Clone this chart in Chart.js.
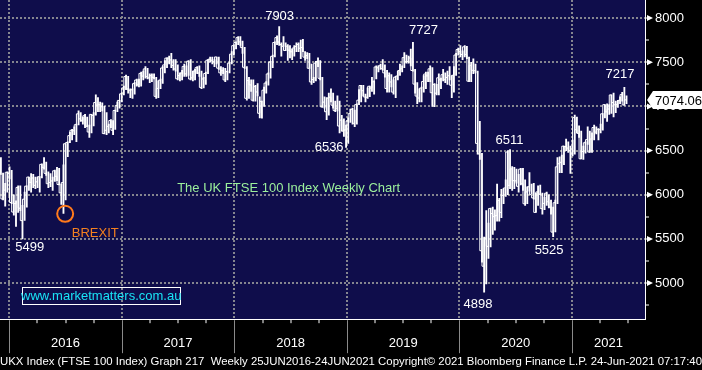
<!DOCTYPE html>
<html>
<head>
<meta charset="utf-8">
<script src="https://cdn.jsdelivr.net/npm/chart.js@4.4.1/dist/chart.umd.min.js"></script>
<style>
  html, body { margin: 0; padding: 0; background: #000; }
  canvas { display: block; }
</style>
</head>
<body>
<canvas id="ftseChart" width="702" height="370"></canvas>
<script>
// weekly bars [low, high, close], first week ends 4 Dec 2015
const w2015 = [[6230,6420,6238],[5940,6245,5952],[5870,6130,6052],[6030,6260,6254],[6180,6315,6242]];
const w2016 = [
  [5900,6275,5912],[5770,6000,5804],[5640,5930,5900],[5800,6100,6083],
  [5820,6100,5848],[5499,5880,5707],[5710,6030,5950],[5860,6100,6097],
  [6050,6200,6200],[6030,6240,6140],[6080,6230,6190],[6070,6200,6106],
  [6080,6200,6146],[6030,6205,6204],[6190,6350,6344],[6290,6420,6310],[6220,6370,6242],
  [6080,6260,6125],[6090,6240,6138],[6050,6200,6156],[6150,6280,6271],
  [6160,6310,6209],[6110,6300,6116],[5890,6120,6021],[5788,6340,6138],
  [5940,6580,6577],[6430,6600,6591],[6590,6710,6669],[6620,6740,6730],[6680,6770,6724],
  [6600,6800,6793],[6790,6950,6916],[6830,6930,6859],[6800,6880,6838],
  [6760,6910,6895],[6770,6880,6777],[6650,6790,6710],[6700,6910,6910],[6780,6930,6899],
  [6900,7130,7044],[6940,7100,7014],[6940,7050,7020],[6950,7040,6996],
  [6690,7000,6693],[6680,6930,6730],[6700,6800,6775],[6760,6850,6840],
  [6680,6840,6730],[6740,6960,6954],[6940,7050,7011],[6980,7070,7068],[7050,7150,7142]
];
const w2017 = [
  [7130,7230,7210],[7190,7355,7338],[7150,7340,7198],[7100,7200,7184],
  [7090,7200,7188],[7140,7270,7258],[7230,7310,7299],[7220,7310,7244],
  [7230,7390,7374],[7300,7400,7343],[7320,7450,7425],[7310,7430,7337],[7270,7370,7323],
  [7280,7370,7349],[7310,7370,7327],[7090,7330,7114],[7100,7290,7204],
  [7200,7310,7297],[7260,7450,7435],[7380,7520,7470],[7440,7550,7547],
  [7480,7570,7548],[7440,7600,7527],[7410,7530,7464],[7400,7530,7424],[7300,7470,7313],
  [7290,7380,7350],[7300,7410,7378],[7340,7480,7453],[7340,7460,7368],
  [7350,7520,7511],[7300,7530,7310],[7290,7400,7324],[7300,7420,7401],
  [7370,7450,7439],[7340,7460,7378],[7200,7400,7215],[7210,7330,7311],[7250,7390,7373],
  [7370,7530,7523],[7500,7560,7535],[7480,7560,7523],[7450,7530,7505],
  [7480,7560,7560],[7420,7560,7433],[7350,7450,7380],[7370,7440,7409],
  [7280,7430,7300],[7300,7400,7394],[7380,7500,7490],[7480,7620,7592],[7580,7690,7688]
];
const w2018 = [
  [7650,7730,7724],[7700,7792,7779],[7690,7790,7731],[7600,7740,7666],
  [7430,7670,7443],[7070,7450,7092],[7090,7330,7294],[7170,7300,7244],
  [7060,7300,7070],[7060,7240,7224],[7120,7260,7164],[6870,7110,6922],[6867,7060,7057],
  [7000,7220,7184],[7150,7280,7264],[7240,7380,7368],[7320,7510,7502],
  [7440,7580,7567],[7560,7730,7724],[7700,7800,7779],[7690,7903,7730],
  [7570,7720,7701],[7680,7790,7681],[7630,7720,7633],[7520,7700,7682],[7550,7690,7637],
  [7530,7650,7618],[7570,7690,7661],[7620,7720,7679],[7620,7720,7701],
  [7540,7750,7659],[7620,7760,7667],[7520,7620,7558],[7540,7610,7577],[7430,7600,7432],
  [7250,7480,7277],[7270,7330,7304],[7290,7510,7490],[7450,7550,7510],
  [7300,7520,7318],[6990,7330,6996],[6980,7110,7049],[6850,7100,6940],
  [6900,7150,7094],[7050,7200,7105],[6980,7150,7014],[6940,7060,6953],[6950,7120,6980],
  [6700,7060,6778],[6720,6900,6845],[6660,6860,6721],[6536,6790,6734]
];
const w2019 = [
  [6580,6870,6837],[6820,6970,6918],[6800,6980,6968],[6770,6960,6809],
  [6800,7030,7020],[7020,7190,7071],[7050,7240,7237],[7120,7240,7178],
  [7050,7140,7107],[7090,7210,7104],[7110,7230,7228],[7170,7330,7207],[7140,7290,7279],
  [7310,7460,7447],[7390,7460,7437],[7420,7480,7460],[7410,7530,7428],
  [7330,7470,7380],[7160,7410,7203],[7160,7380,7348],[7220,7360,7277],[7140,7300,7162],
  [7100,7340,7331],[7300,7400,7345],[7350,7480,7407],[7390,7460,7426],
  [7440,7610,7553],[7490,7580,7506],[7490,7570,7508],[7460,7650,7549],
  [7400,7727,7407],[7150,7420,7253],[7030,7270,7117],[7050,7200,7095],[7050,7220,7207],
  [7160,7350,7282],[7200,7390,7367],[7280,7390,7345],[7280,7460,7426],
  [7000,7440,7155],[6997,7260,7247],[7130,7250,7150],[7130,7370,7324],
  [7200,7320,7302],[7290,7420,7359],[7270,7380,7302],[7250,7400,7327],[7300,7450,7347],
  [7100,7350,7240],[7160,7450,7353],[7350,7600,7582],[7580,7660,7644]
];
const w2020 = [
  [7560,7690,7623],[7530,7630,7588],[7560,7690,7675],[7540,7680,7586],[7280,7560,7286],
  [7280,7500,7466],[7370,7540,7409],[7380,7480,7404],[6460,7400,6581],
  [6400,6830,6463],[5237,6470,5366],[4898,5520,5191],[4990,5820,5510],
  [5280,5680,5416],[5410,5850,5843],[5550,5860,5787],[5600,5830,5752],
  [5700,6120,5763],[5700,5960,5936],[5740,6060,5800],[5900,6070,5993],[5980,6170,6077],
  [6000,6500,6484],[6070,6511,6105],[6050,6320,6293],[6070,6310,6159],
  [6130,6290,6157],[6030,6230,6095],[6110,6300,6290],[6050,6300,6124],[5880,6170,5898],
  [5900,6090,6032],[6040,6250,6090],[6010,6120,6001],[5950,6130,5964],
  [5800,6020,5800],[5880,6100,6032],[6000,6110,6007],[5780,6020,5843],
  [5830,5970,5902],[5880,6030,6017],[5850,6000,5920],[5780,5940,5860],[5525,5860,5577],
  [5580,5940,5910],[5900,6420,6316],[6250,6430,6351],[6250,6450,6367],
  [6340,6550,6550],[6500,6630,6546],[6480,6600,6529],[6240,6550,6502],[6440,6620,6461]
];
const w2021 = [
  [6460,6903,6873],[6700,6880,6736],[6650,6780,6695],[6407,6720,6407],
  [6400,6550,6489],[6470,6600,6589],[6570,6770,6624],[6480,6720,6483],
  [6480,6700,6631],[6620,6790,6761],[6690,6770,6709],[6620,6750,6741],
  [6700,6800,6737],[6730,6920,6916],[6870,7020,7020],[6830,7030,6938],[6910,7020,6970],
  [6920,7130,7130],[6880,7150,7044],[6930,7060,7018],[6990,7070,7023],
  [7030,7110,7069],[7060,7160,7134],[7010,7217,7017],[7030,7120,7074]
];

const lastPrice = 7074.06;
const yearNames = ['2016', '2017', '2018', '2019', '2020', '2021'];
const yearLabelAt = [2016.5, 2017.5, 2018.5, 2019.5, 2020.5, 2021.324];
const priceTicks = [4750, 5000, 5250, 5500, 5750, 6000, 6250, 6500, 6750, 7000, 7250, 7500, 7750, 8000];
const brexitPoint = { x: 2016.497, y: 5784 };

// text put on the chart (year, price)
const callouts = [
  { text: '7903', x: 2018.402, y: 8023, color: '#ffffff' },
  { text: '7727', x: 2019.681, y: 7864, color: '#ffffff' },
  { text: '6536', x: 2018.842, y: 6534, color: '#ffffff' },
  { text: '7217', x: 2021.426, y: 7364, color: '#ffffff' },
  { text: '6511', x: 2020.445, y: 6614, color: '#ffffff' },
  { text: '5525', x: 2020.796, y: 5375, color: '#ffffff' },
  { text: '4898', x: 2020.165, y: 4761, color: '#ffffff' },
  { text: '5499', x: 2016.182, y: 5398, color: '#ffffff' },
  { text: 'BREXIT', x: 2016.764, y: 5557, color: '#f4801f' },
  { text: 'The UK FTSE 100 Index Weekly Chart', x: 2017.492, y: 6068, color: '#9cf09c', align: 'left' }
];

const FONT = '"Liberation Sans", Arial, sans-serif';
const NAVY = '#0f0d4b';
const GRID = '#85858f';

const weeks = [].concat(w2015, w2016, w2017, w2018, w2019, w2020, w2021);
const firstWeek = 2015.926;
const weekPos = i => firstWeek + i * 7 / 365.25;
const rangeData = weeks.map((w, i) => ({ x: weekPos(i), y: [w[0], w[1]] }));
const closeData = weeks.map((w, i) => ({ x: weekPos(i), y: w[2] }));

const xTickValues = [];
for (let q = 2016; q <= 2021.5; q += 0.25) xTickValues.push(q);
yearLabelAt.forEach(v => { if (!xTickValues.includes(v)) xTickValues.push(v); });
xTickValues.sort((a, b) => a - b);

// keep the plot flush with the canvas edges
function noScalePadding(s) {
  s.paddingTop = 0;
  s.paddingBottom = 0;
  s.paddingLeft = 0;
  s.paddingRight = 0;
}

const overlay = {
  id: 'overlay',
  beforeDraw(chart) {
    const { ctx, chartArea: a } = chart;
    ctx.save();
    ctx.fillStyle = NAVY;
    ctx.fillRect(a.left, a.top, a.right - a.left, a.bottom - a.top);
    ctx.restore();
  },
  afterDatasetsDraw(chart) {
    const { ctx, scales: { x, y } } = chart;
    ctx.save();
    ctx.font = '13px ' + FONT;
    ctx.textBaseline = 'middle';
    callouts.forEach(c => {
      ctx.fillStyle = c.color;
      ctx.textAlign = c.align || 'center';
      ctx.fillText(c.text, x.getPixelForValue(c.x), y.getPixelForValue(c.y));
    });
    // website box
    const bx = x.getPixelForValue(2016.115), bx2 = x.getPixelForValue(2017.519);
    const by = y.getPixelForValue(4955), by2 = y.getPixelForValue(4761);
    ctx.strokeStyle = '#ffffff';
    ctx.lineWidth = 1;
    ctx.strokeRect(Math.round(bx) + 0.5, Math.round(by) + 0.5, Math.round(bx2 - bx), Math.round(by2 - by));
    ctx.fillStyle = '#19e3f5';
    ctx.textAlign = 'center';
    ctx.fillText('www.marketmatters.com.au', (bx + bx2) / 2, (by + by2) / 2 + 1);
    ctx.restore();
  },
  afterDraw(chart) {
    const { ctx, chartArea: a, scales: { x, y } } = chart;
    ctx.save();
    // long year separators in the date band
    ctx.strokeStyle = '#8a8a8a';
    ctx.lineWidth = 1;
    for (let yr = 2016; yr <= 2021; yr++) {
      const px = Math.round(x.getPixelForValue(yr)) + 0.5;
      ctx.beginPath();
      ctx.moveTo(px, a.bottom + 1);
      ctx.lineTo(px, a.bottom + 34);
      ctx.stroke();
    }
    // pointers on the price axis
    ctx.fillStyle = '#ffffff';
    priceTicks.filter(v => v % 500 === 0).forEach(v => {
      const py = y.getPixelForValue(v);
      ctx.beginPath();
      ctx.moveTo(a.right + 2, py - 3);
      ctx.lineTo(a.right + 8, py);
      ctx.lineTo(a.right + 2, py + 3);
      ctx.closePath();
      ctx.fill();
    });
    // last price tag
    const ly = Math.round(y.getPixelForValue(lastPrice));
    ctx.beginPath();
    ctx.moveTo(a.right + 2, ly);
    ctx.lineTo(a.right + 8, ly - 9);
    ctx.lineTo(702, ly - 9);
    ctx.lineTo(702, ly + 9);
    ctx.lineTo(a.right + 8, ly + 9);
    ctx.closePath();
    ctx.fill();
    ctx.fillStyle = '#000000';
    ctx.font = '13px ' + FONT;
    ctx.textBaseline = 'middle';
    ctx.textAlign = 'left';
    ctx.fillText(lastPrice.toFixed(2), a.right + 10, ly + 1);
    ctx.restore();
  }
};

new Chart(document.getElementById('ftseChart'), {
  type: 'bar',
  data: {
    datasets: [
      {
        type: 'scatter',
        data: [brexitPoint],
        pointRadius: 8,
        pointHoverRadius: 8,
        borderColor: '#ff7a1c',
        borderWidth: 2,
        backgroundColor: 'transparent',
        order: 0
      },
      {
        type: 'line',
        data: closeData,
        borderColor: '#ffffff',
        borderWidth: 1,
        pointRadius: 0,
        stepped: 'after',
        order: 1
      },
      {
        type: 'bar',
        data: rangeData,
        backgroundColor: '#ffffff',
        barThickness: 1.2,
        grouped: false,
        order: 2
      }
    ]
  },
  options: {
    responsive: false,
    animation: false,
    layout: { padding: 0, autoPadding: false },
    plugins: {
      legend: { display: false },
      tooltip: { enabled: false },
      title: {
        display: true,
        position: 'bottom',
        align: 'start',
        text: 'UKX Index (FTSE 100 Index) Graph 217  Weekly 25JUN2016-24JUN2021 Copyright\u00a9 2021 Bloomberg Finance L.P. 24-Jun-2021 07:17:40',
        color: '#ffffff',
        font: { family: FONT, size: 11.6, weight: 'normal' },
        padding: { top: 0, bottom: 1 }
      }
    },
    scales: {
      x: {
        type: 'linear',
        min: 2015.918,
        max: 2021.648,
        offset: false,
        afterBuildTicks: s => { s.ticks = xTickValues.map(v => ({ value: v })); },
        afterFit: s => { s.height = 35.9; noScalePadding(s); },
        ticks: {
          autoSkip: false,
          maxRotation: 0,
          color: '#ffffff',
          font: { family: FONT, size: 13 },
          padding: 12,
          callback: v => {
            const k = yearLabelAt.indexOf(v);
            return k >= 0 ? yearNames[k] : '';
          }
        },
        grid: {
          offset: false,
          lineWidth: 2,
          color: c => (c.tick && Number.isInteger(c.tick.value)) ? GRID : 'transparent',
          tickColor: c => (c.tick && !Number.isInteger(c.tick.value) && Number.isInteger(c.tick.value * 4)) ? '#ffffff' : 'transparent',
          tickWidth: 1,
          tickLength: 4
        },
        border: { display: true, color: '#ffffff', width: 1, dash: [2, 2] }
      },
      y: {
        position: 'right',
        min: 4591,
        max: 8205,
        beginAtZero: false,
        afterBuildTicks: s => { s.ticks = priceTicks.map(v => ({ value: v })); },
        afterFit: s => { s.width = 57; noScalePadding(s); },
        ticks: {
          color: '#ffffff',
          font: { family: FONT, size: 13 },
          padding: 6,
          callback: v => (v % 500 === 0 ? String(v) : '')
        },
        grid: {
          lineWidth: 2,
          color: c => (c.tick && c.tick.value % 500 === 0) ? GRID : 'transparent',
          tickColor: '#ffffff',
          tickWidth: 1,
          tickLength: 4
        },
        border: { display: true, color: '#ffffff', width: 1, dash: [2, 2] }
      }
    }
  },
  plugins: [overlay]
});
</script>
</body>
</html>
